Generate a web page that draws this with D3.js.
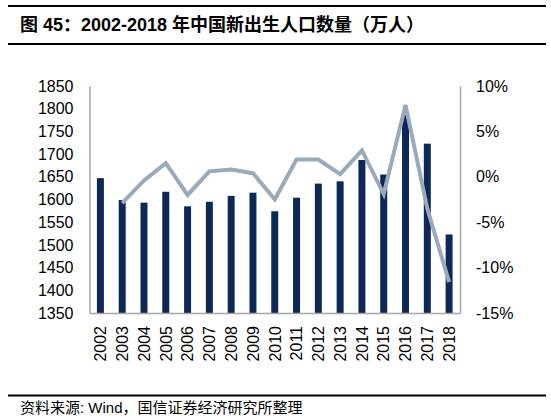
<!DOCTYPE html>
<html>
<head>
<meta charset="utf-8">
<script src="https://cdn.jsdelivr.net/npm/d3@7"></script>
<style>
  body { margin: 0; background: #fff; }
  text { font-family: "Liberation Sans", Arial, "Noto Sans CJK SC", sans-serif; }
</style>
</head>
<body>
<svg id="canvas"></svg>
<script>
// data
const years = ['2002','2003','2004','2005','2006','2007','2008','2009','2010',
               '2011','2012','2013','2014','2015','2016','2017','2018']
const births = [1647, 1599, 1593, 1617, 1585, 1595, 1608, 1615, 1574,
                1604, 1635, 1640, 1687, 1655, 1786, 1723, 1523]
const growthYears = years.slice(1)
const growth = [-2.9, -0.4, 1.5, -2.0, 0.6, 0.8, 0.4, -2.5,
                1.9, 1.9, 0.3, 2.9, -1.9, 7.9, -3.5, -11.6]
const leftTicks = [1350, 1400, 1450, 1500, 1550, 1600, 1650, 1700, 1750, 1800, 1850]
const rightTicks = [-15, -10, -5, 0, 5, 10]

const w = 551
const h = 419
const plotL = 89.5, plotR = 460, plotT = 86, plotB = 313

let canvas = d3.select('#canvas')
canvas.attr('width', w).attr('height', h)

// title + rules
canvas.append('line').attr('x1', 8).attr('x2', 546).attr('y1', 6).attr('y2', 6)
      .attr('stroke', '#000').attr('stroke-width', 2)
canvas.append('text').attr('x', 20).attr('y', 31)
      .attr('font-size', 18).attr('font-weight', 'bold').attr('fill', '#000')
      .text('图 45：2002-2018 年中国新出生人口数量（万人）')
canvas.append('line').attr('x1', 8).attr('x2', 546).attr('y1', 44).attr('y2', 44)
      .attr('stroke', '#000').attr('stroke-width', 2)

// scales
let xScale = d3.scaleBand().domain(years).range([plotL, plotR])
               .paddingInner(0.68).paddingOuter(0.34)
let yLeft = d3.scaleLinear().domain([1350, 1850]).range([plotB, plotT])
let yRight = d3.scaleLinear().domain([-15, 10]).range([plotB, plotT])

// bars
canvas.selectAll('rect.bar')
      .data(births)
      .enter()
      .append('rect')
      .attr('class', 'bar')
      .attr('x', (d, i) => xScale(years[i]))
      .attr('width', xScale.bandwidth())
      .attr('y', d => yLeft(d))
      .attr('height', d => yLeft(1350) - yLeft(d))
      .attr('fill', '#0b2856')

// growth line
let line = d3.line()
             .x((d, i) => xScale(growthYears[i]) + xScale.bandwidth() / 2)
             .y(d => yRight(d))
canvas.append('path')
      .datum(growth)
      .attr('d', line)
      .attr('fill', 'none')
      .attr('stroke', '#9aaabb')
      .attr('stroke-width', 4)
      .attr('stroke-linejoin', 'miter')

// axes
let styleAxis = g => {
  g.select('.domain').attr('stroke', '#a6a6a6').attr('stroke-width', 1.5)
  g.selectAll('text').attr('font-size', 16).attr('fill', '#000')
   .style('font-family', '"Liberation Sans", Arial, sans-serif')
}

canvas.append('g')
      .attr('transform', 'translate(' + plotL + ',0)')
      .call(d3.axisLeft(yLeft).tickValues(leftTicks).tickSize(0).tickPadding(16)
                .tickFormat(d3.format('d')))
      .call(styleAxis)

canvas.append('g')
      .attr('transform', 'translate(' + plotR + ',0)')
      .call(d3.axisRight(yRight).tickValues(rightTicks).tickSize(0).tickPadding(16)
                .tickFormat(d => d + '%'))
      .call(styleAxis)

let xAxisG = canvas.append('g')
      .attr('transform', 'translate(0,' + plotB + ')')
      .call(d3.axisBottom(xScale).tickSize(0))
      .call(styleAxis)
xAxisG.selectAll('text')
      .attr('transform', 'rotate(-90)')
      .attr('text-anchor', 'end')
      .attr('x', -13)
      .attr('y', 0)
      .attr('dy', '0.36em')

// source
canvas.append('line').attr('x1', 8).attr('x2', 546).attr('y1', 395.5).attr('y2', 395.5)
      .attr('stroke', '#000').attr('stroke-width', 2)
canvas.append('text').attr('x', 20).attr('y', 413)
      .attr('font-size', 15).attr('fill', '#000')
      .text('资料来源: Wind，国信证券经济研究所整理')
</script>
</body>
</html>
